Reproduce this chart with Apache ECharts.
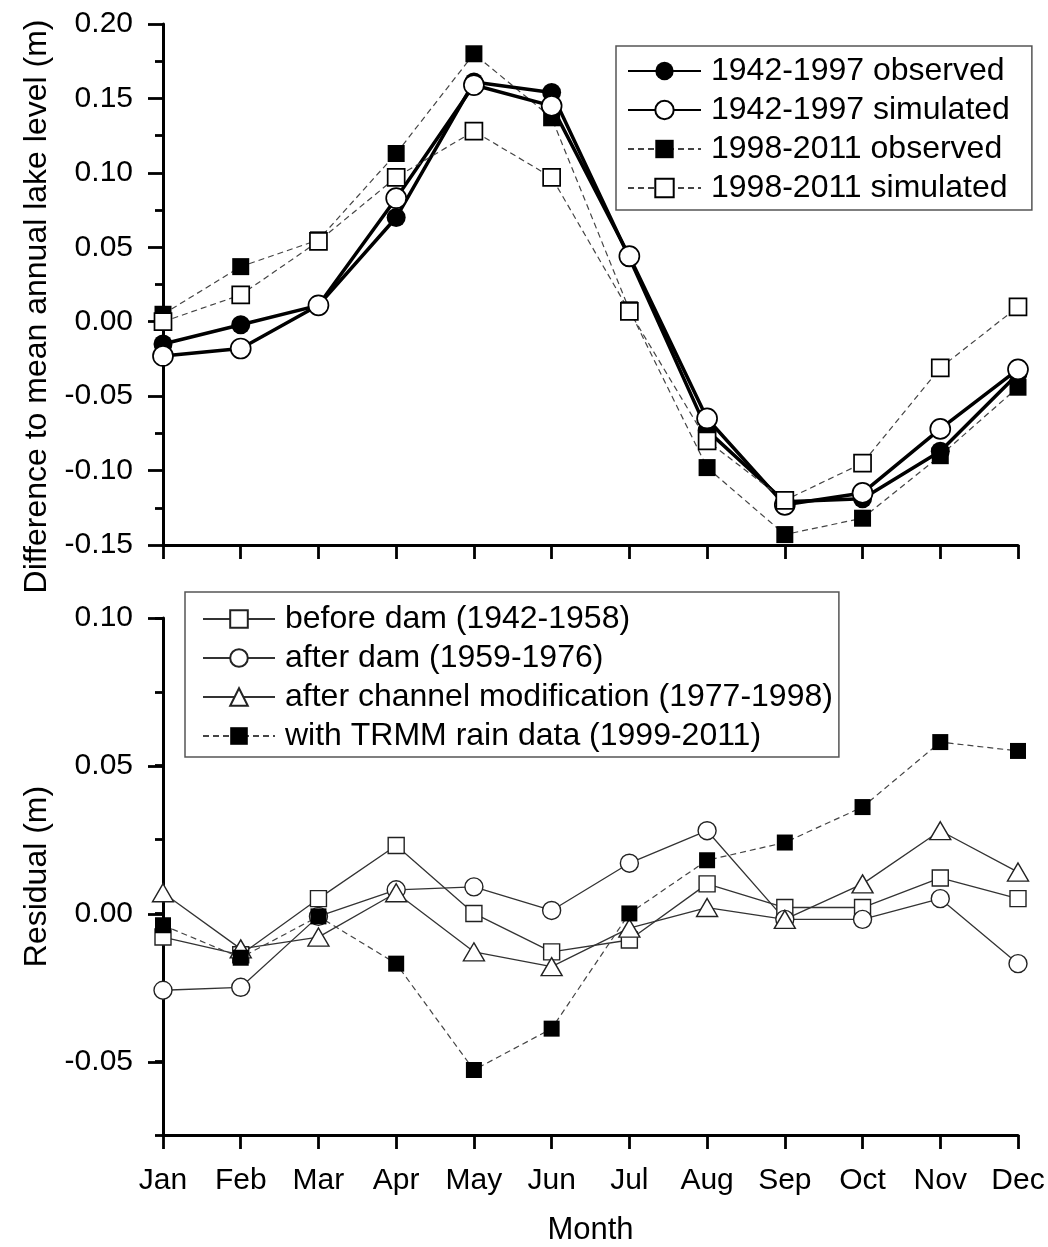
<!DOCTYPE html>
<html>
<head>
<meta charset="utf-8">
<title>Lake level seasonal cycle and residuals</title>
<script src="https://cdn.jsdelivr.net/npm/echarts@6/dist/echarts.min.js"></script>
<style>
  html, body { margin: 0; padding: 0; background: #fff; }
  #chart { width: 1048px; height: 1247px; }
</style>
</head>
<body>
<div id="chart"></div>
<script>
// Months shared by both panels
const months = ['Jan', 'Feb', 'Mar', 'Apr', 'May', 'Jun', 'Jul', 'Aug', 'Sep', 'Oct', 'Nov', 'Dec'];

// Upper panel: difference to mean annual lake level (m)
const observed1942_1997  = [-0.015, -0.002, 0.011, 0.070, 0.161, 0.154, 0.043, -0.073, -0.121, -0.119, -0.087, -0.035];
const simulated1942_1997 = [-0.023, -0.018, 0.011, 0.083, 0.159, 0.145, 0.044, -0.065, -0.123, -0.115, -0.072, -0.032];
const observed1998_2011  = [0.005, 0.037, 0.055, 0.113, 0.180, 0.137, 0.008, -0.098, -0.143, -0.132, -0.090, -0.044];
const simulated1998_2011 = [0.000, 0.018, 0.054, 0.097, 0.128, 0.097, 0.007, -0.080, -0.120, -0.095, -0.031, 0.010];

// Lower panel: residual (m)
const beforeDam      = [-0.008, -0.014, 0.005, 0.023, 0.000, -0.013, -0.009, 0.010, 0.002, 0.002, 0.012, 0.005];
const afterDam       = [-0.026, -0.025, -0.001, 0.008, 0.009, 0.001, 0.017, 0.028, -0.002, -0.002, 0.005, -0.017];
const afterChannel   = [0.007, -0.012, -0.008, 0.007, -0.013, -0.018, -0.005, 0.002, -0.002, 0.010, 0.028, 0.014];
const withTrmm       = [-0.004, -0.015, -0.001, -0.017, -0.053, -0.039, 0.000, 0.018, 0.024, 0.036, 0.058, 0.055];

// Axis ranges
const upperRange = { min: -0.15, max: 0.20, step: 0.05 };
const lowerRange = { min: -0.075, max: 0.10, step: 0.025 };
const lowerMajor = { min: -0.05, max: 0.10, step: 0.05 };

const FONT = '"Liberation Sans", Arial, sans-serif';
const fmt2 = v => (Math.abs(v) < 1e-9 ? 0 : v).toFixed(2);

const axisLineStyle = { color: '#000', width: 3 };
const tickStyle = { color: '#000', width: 2.8 };

const chart = echarts.init(document.getElementById('chart'), null, { renderer: 'canvas' });

const thickLine = { color: '#000', width: 3.5, type: 'solid' };
const dashLine = { color: '#444', width: 1.2, type: [6, 4] };
const thinLine = { color: '#333', width: 1.3, type: 'solid' };
const openMarker = { color: '#fff', borderColor: '#000', borderWidth: 1.7 };
const openMarkerThin = { color: '#fff', borderColor: '#222', borderWidth: 1.4 };
const filledMarker = { color: '#000', borderColor: '#000', borderWidth: 0 };

const option = {
  backgroundColor: '#fff',
  animation: false,
  textStyle: { fontFamily: FONT, color: '#000' },
  grid: [
    { left: 163, right: 30, top: 24, height: 521, containLabel: false },
    { left: 163, right: 30, top: 618, height: 519, containLabel: false },
    { left: 163, right: 30, top: 618, height: 444, containLabel: false }
  ],
  legend: [
    {
      orient: 'vertical',
      left: 616, top: 46,
      padding: [9, 22, 6, 11],
      itemWidth: 73, itemHeight: 23, itemGap: 7,
      borderColor: '#555', borderWidth: 1.5,
      textStyle: { fontFamily: FONT, fontSize: 32, color: '#000', padding: [0, 0, 0, 5] },
      data: ['1942-1997 observed', '1942-1997 simulated', '1998-2011 observed', '1998-2011 simulated']
    },
    {
      orient: 'vertical',
      left: 185, top: 592,
      padding: [11, 6, 5, 17],
      itemWidth: 72, itemHeight: 22, itemGap: 7,
      borderColor: '#555', borderWidth: 1.5,
      textStyle: { fontFamily: FONT, fontSize: 32, color: '#000', padding: [0, 0, 0, 5] },
      data: ['before dam (1942-1958)', 'after dam (1959-1976)', 'after channel modification (1977-1998)', 'with TRMM rain data (1999-2011)']
    }
  ],
  xAxis: [
    {
      type: 'category', gridIndex: 0, data: months, boundaryGap: false,
      axisLine: { onZero: false, lineStyle: axisLineStyle },
      axisTick: { show: true, length: 14, lineStyle: tickStyle, alignWithLabel: true },
      axisLabel: { show: false },
      splitLine: { show: false }
    },
    {
      type: 'category', gridIndex: 1, data: months, boundaryGap: false,
      name: 'Month', nameLocation: 'middle', nameGap: 80,
      nameTextStyle: { fontFamily: FONT, fontSize: 31, color: '#000' },
      axisLine: { onZero: false, lineStyle: axisLineStyle },
      axisTick: { show: true, length: 14, lineStyle: tickStyle, alignWithLabel: true },
      axisLabel: { fontFamily: FONT, fontSize: 30, color: '#000', margin: 31 },
      splitLine: { show: false }
    },
    {
      type: 'category', gridIndex: 2, data: months, boundaryGap: false, show: false
    }
  ],
  yAxis: [
    {
      type: 'value', gridIndex: 0,
      min: upperRange.min, max: upperRange.max, interval: upperRange.step,
      name: 'Difference to mean annual lake level (m)', nameLocation: 'middle', nameGap: 110,
      nameTextStyle: { fontFamily: FONT, fontSize: 32, color: '#000', padding: [0, 44, 0, 0] },
      axisLine: { show: true, lineStyle: axisLineStyle },
      axisTick: { show: true, length: 15, lineStyle: tickStyle },
      minorTick: { show: true, splitNumber: 2, length: 8, lineStyle: tickStyle },
      axisLabel: { fontFamily: FONT, fontSize: 30, color: '#000', margin: 30, formatter: fmt2 },
      splitLine: { show: false }, minorSplitLine: { show: false }
    },
    {
      type: 'value', gridIndex: 1,
      min: lowerRange.min, max: lowerRange.max, interval: lowerRange.step,
      name: 'Residual (m)', nameLocation: 'middle', nameGap: 110,
      nameTextStyle: { fontFamily: FONT, fontSize: 32, color: '#000' },
      axisLine: { show: true, lineStyle: axisLineStyle },
      axisTick: { show: true, length: 8, lineStyle: tickStyle },
      axisLabel: { show: false },
      splitLine: { show: false }
    },
    {
      // major ticks and labels of the residual axis
      type: 'value', gridIndex: 2,
      min: lowerMajor.min, max: lowerMajor.max, interval: lowerMajor.step,
      axisLine: { show: false },
      axisTick: { show: true, length: 15, lineStyle: tickStyle },
      axisLabel: { fontFamily: FONT, fontSize: 30, color: '#000', margin: 30, formatter: fmt2 },
      splitLine: { show: false }
    }
  ],
  series: [
    {
      name: '1998-2011 observed', type: 'line', xAxisIndex: 0, yAxisIndex: 0,
      data: observed1998_2011, symbol: 'rect', symbolSize: 17,
      lineStyle: dashLine, itemStyle: filledMarker
    },
    {
      name: '1942-1997 observed', type: 'line', xAxisIndex: 0, yAxisIndex: 0,
      data: observed1942_1997, symbol: 'circle', symbolSize: 19,
      lineStyle: thickLine, itemStyle: filledMarker
    },
    {
      name: '1942-1997 simulated', type: 'line', xAxisIndex: 0, yAxisIndex: 0,
      data: simulated1942_1997, symbol: 'circle', symbolSize: 20,
      lineStyle: thickLine, itemStyle: openMarker
    },
    {
      name: '1998-2011 simulated', type: 'line', xAxisIndex: 0, yAxisIndex: 0,
      data: simulated1998_2011, symbol: 'rect', symbolSize: 17,
      lineStyle: dashLine, itemStyle: openMarker
    },
    {
      name: 'before dam (1942-1958)', type: 'line', xAxisIndex: 1, yAxisIndex: 1,
      data: beforeDam, symbol: 'rect', symbolSize: 16,
      lineStyle: thinLine, itemStyle: openMarkerThin
    },
    {
      name: 'after dam (1959-1976)', type: 'line', xAxisIndex: 1, yAxisIndex: 1,
      data: afterDam, symbol: 'circle', symbolSize: 18,
      lineStyle: thinLine, itemStyle: openMarkerThin
    },
    {
      name: 'after channel modification (1977-1998)', type: 'line', xAxisIndex: 1, yAxisIndex: 1,
      data: afterChannel, symbol: 'triangle', symbolSize: [21, 18],
      lineStyle: thinLine, itemStyle: openMarkerThin
    },
    {
      name: 'with TRMM rain data (1999-2011)', type: 'line', xAxisIndex: 1, yAxisIndex: 1,
      data: withTrmm, symbol: 'rect', symbolSize: 16,
      lineStyle: dashLine, itemStyle: filledMarker
    }
  ]
};

chart.setOption(option);
</script>
</body>
</html>
